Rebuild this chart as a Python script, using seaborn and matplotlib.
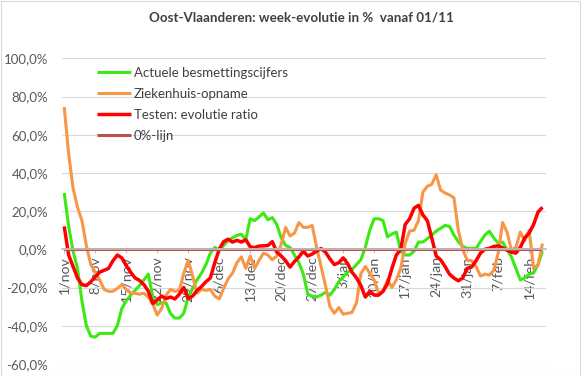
import matplotlib
matplotlib.use("Agg")
import matplotlib.pyplot as plt
import seaborn as sns
import pandas as pd
from matplotlib.ticker import FuncFormatter, FixedLocator, FixedFormatter, MultipleLocator
from matplotlib.patches import Rectangle

# ---------------- data ----------------
dates = pd.date_range("2020-11-01", periods=109, freq="D")
day_index = list(range(len(dates)))

tick_days = [0, 7, 14, 21, 28, 35, 42, 49, 56, 63, 70, 77, 84, 91, 98, 105]
tick_labels = ["1/nov", "8/nov", "15/nov", "22/nov", "29/nov", "6/dec", "13/dec",
               "20/dec", "27/dec", "3/jan", "10/jan", "17/jan", "24/jan", "31/jan",
               "7/feb", "14/feb"]

series_names = ["Actuele besmettingscijfers", "Ziekenhuis-opname",
                "Testen: evolutie ratio", "0%-lijn"]

besmettingen = [
    29.5, 12, -1, -10, -27, -40, -45.5, -46, -44, -44,
    -44, -44, -40, -31, -27, -24, -21.5, -19, -16, -13,
    -25, -29, -28, -28, -33.7, -36, -36, -33.5, -25, -20.5,
    -16, -12.5, -8, -2, 1, -0.5, 2, 4.5, 6, 7.3,
    7.9, 5, 16, 15, 17, 19, 15.5, 16.6, 13, 6,
    2, 1, -3, -7, -13, -23.5, -24.5, -25, -24, -22.5,
    -24, -21, -17, -14.5, -12, -10.5, -8, -5.5, 1, 10,
    16, 16, 15, 6.5, 8, 9, -1, -3, -3, -1,
    3.8, 3.8, 5.5, 7.5, 9.5, 11, 12.5, 12, 7.5, 4,
    1.5, 0.5, 0.5, 0.5, 4, 7.5, 9.5, 6, 3.2, 3.8,
    0, -4, -10, -16, -15, -13, -12.4, -8, -1,
]

ziekenhuis = [
    74.5, 50, 32, 22, 15, 2, -8, -12, -16, -21,
    -22, -22, -20.5, -18.5, -21, -23, -23, -23.5, -23, -25,
    -28.5, -34.5, -31, -24, -21, -22, -21.5, -12.5, -5.8, -14,
    -23, -21, -21.5, -21, -24.5, -26, -20.5, -15.5, -12.5, -7,
    -4, -10, -3.5, -10, -5.8, -2, -3, -5.5, -3.5, 2.5,
    11.5, 7, 8.5, 14, 11.5, 11.5, 12.5, 1, -9, -19,
    -30, -33.5, -30.5, -34, -33.5, -33, -28, -12.7, -9, -12.5,
    -16.2, -23, -22, -16, -20, -16, -10, 3, 9.5, 10,
    15, 30, 33, 34, 39, 31, 29.5, 28.5, 27, 10,
    0, -5.8, -6, -9, -14, -13, -13.5, -11, -2, 14,
    9, -0.5, 1, 9, 4.5, 10, -10, -8, 3,
]

testen = [
    12, -3, -9, -15, -18.5, -19, -17, -14.5, -12, -11,
    -10, -6, -3, -4.5, -8.5, -12, -15, -16.3, -18.5, -22,
    -28.4, -26.5, -24.5, -25.8, -25, -26, -23.5, -20, -25.8, -24.5,
    -21.5, -19.5, -17, -15, -7, 0, 4, 5.3, 3.8, 4.7,
    3.8, 5, 1.3, 0.9, 1.7, 1.8, 2, 4, -1.5, -3.5,
    -6, -9.3, -6.4, -4, -1, -3.5, -2.5, -1, 0.4, -1.5,
    -5, -8, -7, -4.5, -7.5, -12, -15, -19, -25, -22,
    -24, -24, -22, -18, -10, -3, 0, 13, 16, 21.5,
    23, 18, 15, 6, -3.5, -5.5, -9, -13, -15, -16.5,
    -15, -10, -9.3, -6, -2, 0, 0.5, 1.5, 1.8, 0.8,
    -0.5, -1.5, -2, 1, 6, 8.5, 13, 19.5, 22,
]

nul_lijn = [0.0] * len(dates)

colors = ["#3BEA12", "#F79646", "#FF0000", "#C0504D"]
widths = [2.2, 2.2, 2.5, 2.2]

# ---------------- figure ----------------
sns.set_theme(style="white")
plt.rcParams["font.family"] = ["Lato", "DejaVu Sans"]

W, H = 581, 376
fig = plt.figure(figsize=(W / 100, H / 100), dpi=100)
ax_left, ax_right = 62 / W, 546 / W
ax_top, ax_bottom = 1 - 58.3 / H, 1 - 363.9 / H
ax = fig.add_axes([ax_left, ax_bottom, ax_right - ax_left, ax_top - ax_bottom])

for name, vals, c, lw in zip(series_names, [besmettingen, ziekenhuis, testen, nul_lijn],
                             colors, widths):
    sns.lineplot(x=day_index, y=vals, color=c, linewidth=lw, label=name, ax=ax,
                 solid_joinstyle="round", solid_capstyle="butt")

ax.spines["bottom"].set_position(("data", 0))
ax.spines["bottom"].set_color("#BFBFBF")
for s in ["top", "right", "left"]:
    ax.spines[s].set_visible(False)

ax.set_xlim(-0.5, 108.8)
ax.set_ylim(-60, 100)
ax.yaxis.set_major_locator(MultipleLocator(20))
ax.yaxis.set_major_formatter(FuncFormatter(lambda v, p: f"{v:.1f}%".replace(".", ",")))
ax.grid(axis="y", color="#D9D9D9", linewidth=0.8)
ax.set_axisbelow(True)

ax.xaxis.set_major_locator(FixedLocator(tick_days))
ax.xaxis.set_major_formatter(FixedFormatter(tick_labels))

ax.tick_params(axis="y", length=0, pad=10, labelsize=9.5, labelcolor="#595959")
ax.tick_params(axis="x", length=3, width=0.8, color="#BFBFBF", pad=2,
               labelsize=10.2, labelcolor="#595959", direction="out", bottom=True,
               labelrotation=90)
ax.set_xlabel("")
ax.set_ylabel("")

leg = ax.legend(loc="upper left", bbox_to_anchor=(97 / W, 1 - 67 / H),
                bbox_transform=fig.transFigure, frameon=False, fontsize=9.5,
                handlelength=2.6, handletextpad=0.2, labelspacing=0.68,
                borderpad=0, borderaxespad=0)
for t in leg.get_texts():
    t.set_color("#404040")

fig.text(301 / W, 1 - 18 / H, "Oost-Vlaanderen: week-evolutie in %  vanaf 01/11",
         ha="center", va="center", fontsize=9.6, fontweight="bold", color="#404040")

fig.patches.append(Rectangle((0.5 / W, 0.5 / H), 1 - 1.5 / W, 1 - 1.5 / H,
                             transform=fig.transFigure, fill=False,
                             edgecolor="#D9D9D9", linewidth=0.8))

fig.savefig("out.png", dpi=100)
